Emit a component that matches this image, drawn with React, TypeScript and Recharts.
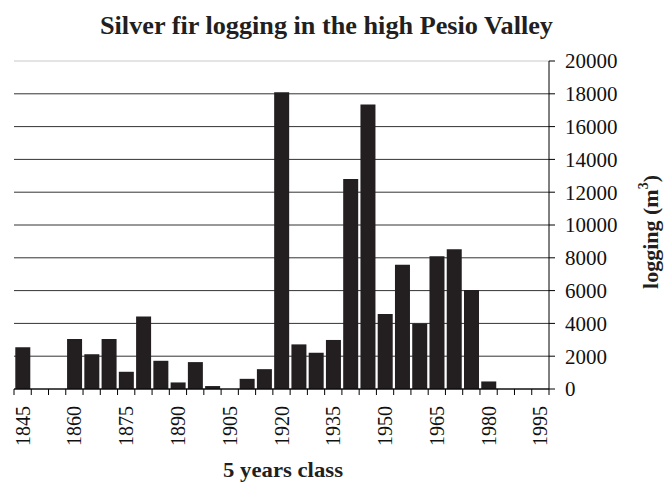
import { BarChart, Bar, XAxis, YAxis, CartesianGrid, ReferenceLine } from "recharts";

const years = [
  "1845", "1850", "1855", "1860", "1865", "1870", "1875", "1880", "1885", "1890", "1895",
  "1900", "1905", "1910", "1915", "1920", "1925", "1930", "1935", "1940", "1945", "1950",
  "1955", "1960", "1965", "1970", "1975", "1980", "1985", "1990", "1995",
];
const logging = [
  2550, 0, 0, 3050, 2120, 3050, 1050, 4420, 1720, 400, 1640,
  180, 0, 620, 1210, 18100, 2720, 2210, 2990, 12800, 17350, 4570,
  7580, 4000, 8090, 8520, 6030, 460, 0, 0, 0,
];
const yTicks = [0, 2000, 4000, 6000, 8000, 10000, 12000, 14000, 16000, 18000, 20000];

const data = years.map((year, i) => ({ year, value: logging[i] }));

const W = 665;
const H = 483;
const LEFT = 14;
const RIGHT_AXIS = 116;
const TOP = 61;
const X_AXIS_H = 94;
const BAND = (W - LEFT - RIGHT_AXIS) / years.length;
const serif = "Liberation Serif, DejaVu Serif, serif";

function XTick(props: any) {
  const { x, y, payload, index } = props;
  const half = BAND / 2;
  const last = index === years.length - 1;
  return (
    <g>
      <line x1={x - half} x2={x - half} y1={y} y2={y + 6} stroke="#000" />
      {last && <line x1={x + half} x2={x + half} y1={y} y2={y + 6} stroke="#000" />}
      {index % 3 === 0 && (
        <text
          transform={`translate(${x},${y + 17}) rotate(-90)`}
          textAnchor="end"
          dominantBaseline="central"
          style={{ fontFamily: serif }}
          fontSize={20}
          fill="#111"
        >
          {payload.value}
        </text>
      )}
    </g>
  );
}

export default function App() {
  return (
    <div
      style={{
        position: "absolute",
        left: 0,
        top: 0,
        width: W,
        height: H,
        background: "#fff",
        fontFamily: serif,
      }}
    >
      <BarChart
        width={W}
        height={H}
        data={data}
        margin={{ top: TOP, right: 0, bottom: 0, left: LEFT }}
        barCategoryGap="7.5%"
        style={{ fontFamily: serif }}
      >
        <CartesianGrid
          vertical={false}
          stroke="#333"
          horizontalValues={yTicks.filter((t) => t < 20000)}
        />
        <ReferenceLine y={20000} stroke="#c8c8c8" />
        <XAxis
          dataKey="year"
          interval={0}
          height={X_AXIS_H}
          tickSize={0}
          tickMargin={0}
          tickLine={false}
          axisLine={{ stroke: "#000" }}
          tick={<XTick />}
        />
        <YAxis
          orientation="right"
          width={RIGHT_AXIS}
          domain={[0, 20000]}
          ticks={yTicks}
          interval={0}
          tickSize={6}
          tickMargin={10}
          axisLine={{ stroke: "#000" }}
          tickLine={{ stroke: "#000" }}
          tick={{ fill: "#111", fontSize: 21, style: { fontFamily: serif } }}
        />
        <Bar dataKey="value" fill="#231f20" isAnimationActive={false} />
      </BarChart>
      <svg
        width={W}
        height={H}
        style={{ position: "absolute", left: 0, top: 0, pointerEvents: "none", fontFamily: serif }}
      >
        <text
          x={100}
          y={34}
          fontWeight="bold"
          fontSize={26}
          textLength={453}
          lengthAdjust="spacingAndGlyphs"
          fill="#231f20"
        >
          Silver fir logging in the high Pesio Valley
        </text>
        <text
          x={223}
          y={477}
          fontWeight="bold"
          fontSize={22}
          textLength={120}
          lengthAdjust="spacingAndGlyphs"
          fill="#231f20"
        >
          5 years class
        </text>
        <text
          transform="translate(658,232) rotate(-90)"
          textAnchor="middle"
          fontWeight="bold"
          fontSize={22}
          fill="#231f20"
        >
          logging (m
          <tspan fontSize={14} dy={-10}>3</tspan>
          <tspan dy={10}>)</tspan>
        </text>
      </svg>
    </div>
  );
}
